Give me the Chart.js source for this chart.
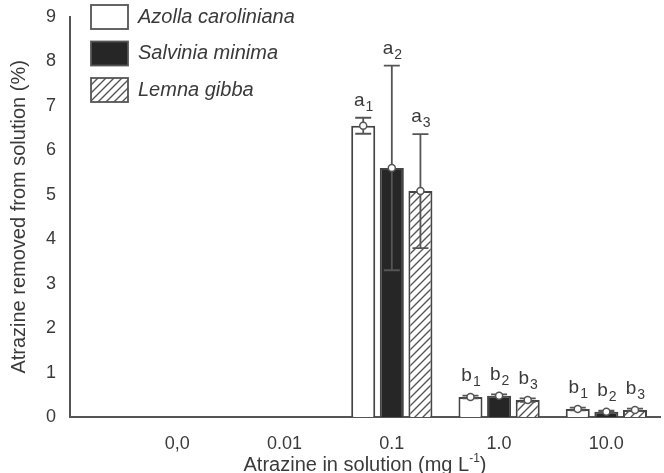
<!DOCTYPE html>
<html>
<head>
<meta charset="utf-8">
<script src="https://cdn.jsdelivr.net/npm/chart.js@4.4.0/dist/chart.umd.min.js"></script>
<style>
  html, body { margin: 0; padding: 0; background: #fff; }
  #wrap { width: 664px; height: 473px; position: relative; }
</style>
</head>
<body>
<div id="wrap"><canvas id="chart"></canvas></div>
<script>
// categorias del eje x (concentracion de atrazina)
const categories = ['0,0', '0.01', '0.1', '1.0', '10.0'];

// series: % de atrazina removida
const azolla = [null, null, 6.55, 0.45, 0.18];
const salvinia = [null, null, 5.6, 0.48, 0.12];
const lemna = [null, null, 5.08, 0.38, 0.16];

// barras de error
const azollaErr = [null, null, 0.18, 0.03, 0.03];
const salviniaErr = [null, null, 2.3, 0.03, 0.02];
const lemnaErr = [null, null, 1.28, 0.04, 0.03];

// letras de significancia
const azollaLetters = ['', '', 'a', 'b', 'b'];
const salviniaLetters = ['', '', 'a', 'b', 'b'];
const lemnaLetters = ['', '', 'a', 'b', 'b'];

const yTicks = [0, 1, 2, 3, 4, 5, 6, 7, 8, 9];

const FONT = "Arial, 'Liberation Sans', sans-serif";
const INK = '#3a3a3a';
const AXIS = '#555';

// patron rayado para Lemna gibba
function hatch() {
  const c = document.createElement('canvas');
  c.width = 8; c.height = 8;
  const g = c.getContext('2d');
  g.fillStyle = '#fff';
  g.fillRect(0, 0, 8, 8);
  g.strokeStyle = '#555';
  g.lineWidth = 1.4;
  g.beginPath();
  g.moveTo(0, 8); g.lineTo(8, 0);
  g.moveTo(-2, 2); g.lineTo(2, -2);
  g.moveTo(6, 10); g.lineTo(10, 6);
  g.stroke();
  return document.getElementById('chart').getContext('2d').createPattern(c, 'repeat');
}
const hatchFill = hatch();

const toPoints = arr => arr.map((v, i) => ({ x: i, y: v }));

const datasets = [
  { label: 'Azolla caroliniana', data: toPoints(azolla), err: azollaErr, letters: azollaLetters, backgroundColor: '#fff' },
  { label: 'Salvinia minima', data: toPoints(salvinia), err: salviniaErr, letters: salviniaLetters, backgroundColor: '#262626' },
  { label: 'Lemna gibba', data: toPoints(lemna), err: lemnaErr, letters: lemnaLetters, backgroundColor: hatchFill }
].map(d => Object.assign(d, {
  borderColor: '#444',
  borderWidth: 2,
  categoryPercentage: 0.8,
  barPercentage: 0.84
}));

// barras de error, marcadores y letras
const errorPlugin = {
  id: 'errorBars',
  afterDatasetsDraw(chart) {
    const ctx = chart.ctx;
    const y = chart.scales.y;
    chart.data.datasets.forEach((ds, di) => {
      const meta = chart.getDatasetMeta(di);
      meta.data.forEach((bar, i) => {
        const v = ds.data[i].y;
        if (v == null) return;
        const e = ds.err[i] || 0;
        const yTop = y.getPixelForValue(v + e);
        const yBot = y.getPixelForValue(v - e);
        const yv = y.getPixelForValue(v);
        ctx.save();
        ctx.strokeStyle = AXIS;
        ctx.lineWidth = 1.8;
        ctx.beginPath();
        ctx.moveTo(bar.x, yTop); ctx.lineTo(bar.x, yBot);
        ctx.moveTo(bar.x - 8, yTop); ctx.lineTo(bar.x + 8, yTop);
        ctx.moveTo(bar.x - 8, yBot); ctx.lineTo(bar.x + 8, yBot);
        ctx.stroke();
        ctx.fillStyle = '#fff';
        ctx.lineWidth = 1.5;
        ctx.beginPath();
        ctx.arc(bar.x, yv, 3.5, 0, Math.PI * 2);
        ctx.fill(); ctx.stroke();

        const letter = ds.letters[i];
        if (letter) {
          const ly = Math.min(yTop, yv - 4) - 12;
          ctx.fillStyle = INK;
          ctx.textBaseline = 'alphabetic';
          ctx.font = '19px ' + FONT;
          const w = ctx.measureText(letter).width;
          ctx.font = '14px ' + FONT;
          const ws = ctx.measureText(String(di + 1)).width;
          const x0 = bar.x - (w + ws) / 2;
          ctx.font = '19px ' + FONT;
          ctx.textAlign = 'left';
          ctx.fillText(letter, x0, ly);
          ctx.font = '14px ' + FONT;
          ctx.fillText(String(di + 1), x0 + w + 1, ly + 5);
        }
        ctx.restore();
      });
    });
  }
};

// leyenda y titulos de ejes
const decorPlugin = {
  id: 'decor',
  afterDraw(chart) {
    const ctx = chart.ctx;
    const area = chart.chartArea;
    ctx.save();
    // leyenda
    chart.data.datasets.forEach((ds, i) => {
      const top = 5 + i * 36.5;
      ctx.fillStyle = ds.backgroundColor;
      ctx.fillRect(91, top, 37, 24);
      ctx.strokeStyle = '#555';
      ctx.lineWidth = 1.8;
      ctx.strokeRect(91, top, 37, 24);
      ctx.fillStyle = INK;
      ctx.font = 'italic 20px ' + FONT;
      ctx.textAlign = 'left';
      ctx.textBaseline = 'middle';
      ctx.fillText(ds.label, 138, top + 12);
    });

    // titulo eje y
    ctx.translate(19, (area.top + area.bottom) / 2);
    ctx.rotate(-Math.PI / 2);
    ctx.font = '20px ' + FONT;
    ctx.textAlign = 'center';
    ctx.textBaseline = 'middle';
    ctx.fillText('Atrazine removed from solution (%)', 0, 0);
    ctx.setTransform(1, 0, 0, 1, 0, 0);

    // titulo eje x con superindice
    const main = 'Atrazine in solution (mg L';
    const sup = '-1';
    const end = ')';
    ctx.font = '20px ' + FONT;
    const w1 = ctx.measureText(main).width;
    const w3 = ctx.measureText(end).width;
    ctx.font = '12px ' + FONT;
    const w2 = ctx.measureText(sup).width;
    let x = 365 - (w1 + w2 + w3) / 2;
    const by = 471;
    ctx.textAlign = 'left';
    ctx.textBaseline = 'alphabetic';
    ctx.font = '20px ' + FONT;
    ctx.fillText(main, x, by);
    x += w1;
    ctx.font = '12px ' + FONT;
    ctx.fillText(sup, x, by - 9);
    x += w2;
    ctx.font = '20px ' + FONT;
    ctx.fillText(end, x, by);
    ctx.restore();
  }
};

new Chart(document.getElementById('chart'), {
  type: 'bar',
  data: { datasets },
  options: {
    responsive: true,
    maintainAspectRatio: false,
    animation: false,
    layout: { padding: { top: 6, right: 4, left: 0, bottom: 0 } },
    plugins: {
      legend: { display: false },
      tooltip: { enabled: false }
    },
    scales: {
      x: {
        type: 'linear',
        offset: false,
        min: -1,
        max: 4.5,
        afterBuildTicks: s => { s.ticks = categories.map((_, i) => ({ value: i })); },
        afterFit: s => { s.height = 56; },
        grid: { display: false },
        border: { color: AXIS, width: 2 },
        ticks: {
          autoSkip: false,
          maxRotation: 0,
          padding: 8,
          color: INK,
          font: { family: FONT, size: 18 },
          callback: v => categories[v] ?? ''
        }
      },
      y: {
        min: 0,
        max: 9,
        afterBuildTicks: s => { s.ticks = yTicks.map(v => ({ value: v })); },
        afterFit: s => { s.width = 70; },
        grid: { display: false },
        border: { color: AXIS, width: 2 },
        ticks: {
          padding: 6,
          color: INK,
          font: { family: FONT, size: 18 }
        }
      }
    }
  },
  plugins: [errorPlugin, decorPlugin]
});
</script>
</body>
</html>
